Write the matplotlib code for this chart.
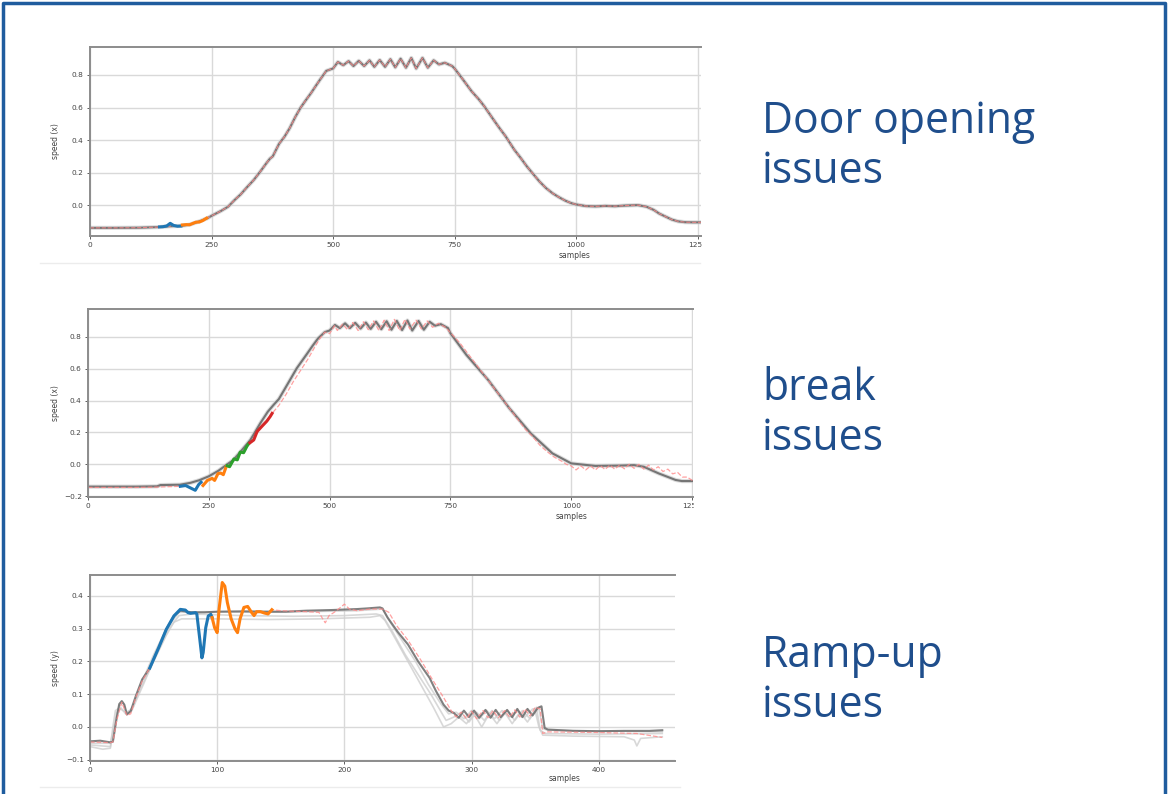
import matplotlib.pyplot as plt
from matplotlib.patches import Rectangle
from matplotlib.lines import Line2D

W, H = 1168, 794
textColour = '#1f4e8c'
borderColour = '#1f5c9e'
axesColour = '#8c8c8c'
gridColour = '#d9d9d9'
refColour = '#6a6a6a'
lightColour = '#cfcfcf'
queryColour = '#ff8a8a'

# ---- panel 1: door opening ----
door_x = [0, 50, 100, 143, 165, 187, 205, 225, 242, 250, 270, 284, 297, 310, 323, 337, 350, 363, 370, 376,
          389, 400, 411, 422, 433, 444, 455, 465, 473, 486, 500, 510, 521, 532, 542, 553, 564, 575, 585,
          596, 607, 618, 628, 639, 650, 661, 671, 684, 695, 707, 718, 730, 745, 750, 767, 785, 800, 811,
          829, 842, 855, 873, 886, 899, 912, 925, 938, 952, 965, 978, 990, 1000, 1020, 1040, 1060, 1080,
          1100, 1127, 1145, 1160, 1171, 1185, 1197, 1210, 1224, 1240, 1258]
door_y = [-0.14, -0.14, -0.139, -0.135, -0.13, -0.128, -0.12, -0.1, -0.08, -0.066, -0.035, -0.01, 0.03,
          0.066, 0.11, 0.155, 0.205, 0.258, 0.285, 0.3, 0.377, 0.42, 0.474, 0.54, 0.598, 0.645, 0.69,
          0.735, 0.77, 0.825, 0.84, 0.88, 0.86, 0.885, 0.855, 0.887, 0.855, 0.89, 0.85, 0.892, 0.85, 0.897,
          0.847, 0.9, 0.845, 0.905, 0.84, 0.905, 0.845, 0.89, 0.865, 0.875, 0.855, 0.84, 0.773, 0.7, 0.65,
          0.608, 0.53, 0.475, 0.423, 0.34, 0.29, 0.237, 0.19, 0.144, 0.105, 0.072, 0.048, 0.027, 0.012,
          0.004, -0.006, -0.008, -0.005, -0.007, -0.003, 0.0, -0.01, -0.03, -0.052, -0.072, -0.089, -0.1,
          -0.105, -0.106, -0.106]
door_blue_x = [143, 150, 158, 165, 172, 180, 187]
door_blue_y = [-0.134, -0.133, -0.128, -0.112, -0.125, -0.13, -0.129]
door_orange_x = [190, 198, 205, 212, 218, 225, 232, 240]
door_orange_y = [-0.122, -0.12, -0.121, -0.112, -0.105, -0.104, -0.095, -0.08]

# ---- panel 2: break ----
break_ref_x = [0, 100, 143, 150, 190, 212, 230, 250, 270, 288, 300, 315, 336, 357, 372, 384, 395, 406, 420,
               432, 443, 454, 465, 476, 490, 500, 511, 521, 532, 542, 553, 564, 575, 585, 596, 607, 618,
               628, 639, 650, 661, 671, 684, 695, 707, 718, 730, 745, 750, 783, 828, 872, 916, 961, 1000,
               1050, 1100, 1130, 1150, 1181, 1216, 1229, 1255]
break_ref_y = [-0.14, -0.14, -0.138, -0.13, -0.128, -0.116, -0.1, -0.075, -0.04, 0.0, 0.025, 0.077, 0.153,
               0.26, 0.33, 0.373, 0.41, 0.467, 0.54, 0.603, 0.65, 0.697, 0.745, 0.79, 0.83, 0.84, 0.875,
               0.855, 0.885, 0.855, 0.888, 0.852, 0.89, 0.85, 0.895, 0.848, 0.898, 0.845, 0.9, 0.843, 0.903,
               0.84, 0.9, 0.845, 0.895, 0.87, 0.88, 0.855, 0.823, 0.687, 0.53, 0.352, 0.195, 0.069, 0.006,
               -0.01, -0.008, -0.005, -0.015, -0.057, -0.098, -0.105, -0.105]
# query line before and after the highlighted segments
break_q_pre_x = [0, 100, 140, 191]
break_q_pre_y = [-0.145, -0.145, -0.143, -0.138]
break_q_post_x = [381, 395, 410, 425, 440, 455, 470, 480, 490, 500, 510, 516, 527, 537, 548,
                  559, 570, 580, 591, 602, 613, 623, 634, 645, 656, 666, 679, 690, 702, 713, 725, 740, 755, 770,
                  785, 800, 815, 830, 845, 860, 875, 890, 905, 920, 935, 950, 965, 980, 990, 1000, 1010, 1020,
                  1030, 1040, 1050, 1060, 1070, 1080, 1090, 1100, 1110, 1120, 1130, 1140, 1150, 1160, 1170,
                  1180, 1190, 1200, 1210, 1220, 1230, 1240, 1250, 1255]
break_q_post_y = [0.32, 0.37, 0.44, 0.52, 0.59, 0.66, 0.74, 0.79, 0.83, 0.82,
                  0.87, 0.84, 0.88, 0.845, 0.89, 0.84, 0.895, 0.845, 0.9, 0.84, 0.905, 0.84, 0.91, 0.84, 0.91,
                  0.85, 0.905, 0.85, 0.9, 0.86, 0.885, 0.86, 0.81, 0.76, 0.7, 0.64, 0.58, 0.52, 0.46, 0.4, 0.34,
                  0.28, 0.22, 0.175, 0.12, 0.08, 0.045, 0.02, 0.0, -0.01, -0.035, -0.01, -0.035, -0.01, -0.035,
                  -0.008, -0.032, -0.005, -0.03, -0.005, -0.028, 0.0, -0.025, 0.0, -0.03, -0.005, -0.035,
                  -0.015, -0.045, -0.03, -0.06, -0.05, -0.08, -0.08, -0.1, -0.105]
break_blue_x = [191, 202, 212, 222, 229, 234]
break_blue_y = [-0.138, -0.133, -0.148, -0.163, -0.127, -0.112]
break_orange_x = [238, 247, 257, 262, 269, 275, 280, 286]
break_orange_y = [-0.133, -0.101, -0.088, -0.101, -0.058, -0.055, -0.065, -0.015]
break_green_x = [288, 293, 302, 309, 315, 322, 329, 333]
break_green_y = [-0.009, -0.015, 0.034, 0.028, 0.077, 0.073, 0.114, 0.131]
break_red_x = [335, 343, 350, 360, 370, 377, 381]
break_red_y = [0.135, 0.153, 0.206, 0.239, 0.271, 0.3, 0.32]

# ---- panel 3: ramp-up ----
ramp_ref_x = [0, 8, 16, 18, 21, 23, 25, 27, 29, 32, 36, 41, 47, 54, 60, 66, 71, 80, 90, 100, 120, 140, 154,
              170, 190, 210, 218, 228, 230, 234, 242, 250, 258, 267, 272, 278, 282, 286, 290, 294, 298, 302,
              306, 311, 315, 319, 323, 328, 332, 336, 340, 344, 348, 352, 355, 357.5, 360, 380, 400, 420,
              440, 450]
ramp_ref_y = [-0.044, -0.042, -0.047, -0.045, 0.028, 0.07, 0.079, 0.068, 0.038, 0.048, 0.094, 0.145, 0.18,
              0.242, 0.298, 0.339, 0.355, 0.35, 0.35, 0.352, 0.353, 0.352, 0.352, 0.355, 0.357, 0.36, 0.362,
              0.365, 0.362, 0.334, 0.29, 0.252, 0.2, 0.15, 0.11, 0.068, 0.05, 0.043, 0.028, 0.05, 0.03,
              0.05, 0.028, 0.052, 0.028, 0.052, 0.03, 0.052, 0.03, 0.055, 0.03, 0.055, 0.035, 0.058, 0.063,
              -0.003, -0.008, -0.012, -0.013, -0.012, -0.012, -0.01]
ramp_q_pre_x = [0, 16, 18, 21, 25, 29, 32, 36, 41, 47]
ramp_q_pre_y = [-0.046, -0.048, -0.046, 0.02, 0.075, 0.035, 0.04, 0.09, 0.14, 0.18]
ramp_q_post_x = [143, 150, 170, 180, 183, 185, 188, 192, 197, 200, 204,
                 210, 220, 230, 235, 241, 250, 260, 270, 278, 284, 288, 292, 296, 300, 304, 309, 313, 317, 321,
                 326, 330, 334, 338, 342, 346, 350, 354, 356, 360, 400, 430, 450]
ramp_q_post_y = [0.358, 0.355, 0.352, 0.35,
                 0.33, 0.318, 0.34, 0.35, 0.365, 0.375, 0.36, 0.355, 0.36, 0.36, 0.35, 0.31, 0.265, 0.205, 0.14,
                 0.09, 0.05, 0.03, 0.045, 0.025, 0.048, 0.025, 0.05, 0.028, 0.05, 0.028, 0.05, 0.03, 0.052, 0.03,
                 0.055, 0.033, 0.06, 0.055, -0.02, -0.015, -0.017, -0.02, -0.032]
ramp_g1_x = [0, 10, 16, 18, 21, 24, 28, 32, 40, 50, 60, 66, 72, 100, 140, 180, 220, 228, 232, 240, 250,
             260, 270, 278, 284, 290, 296, 302, 308, 314, 320, 326, 332, 338, 344, 350, 353, 356, 380, 420,
             428, 430, 433, 450]
ramp_g1_y = [-0.06, -0.068, -0.065, -0.02, 0.045, 0.055, 0.045, 0.05, 0.12, 0.2, 0.28, 0.32, 0.33, 0.33,
             0.328, 0.33, 0.335, 0.34, 0.325, 0.27, 0.2, 0.13, 0.06, 0.0, 0.01, 0.03, 0.01, 0.04, 0.0, 0.04,
             0.01, 0.045, 0.01, 0.045, 0.015, 0.05, 0.0, -0.025, -0.028, -0.03, -0.04, -0.058, -0.035, -0.03]
ramp_g2_x = [0, 16, 18, 20, 24, 28, 34, 42, 52, 62, 70, 80, 120, 160, 200, 225, 230, 238, 248, 258, 268,
             274, 280, 286, 292, 298, 304, 310, 316, 322, 328, 334, 340, 346, 351, 354, 358, 400, 450]
ramp_g2_y = [-0.055, -0.06, 0.0, 0.05, 0.06, 0.04, 0.06, 0.13, 0.22, 0.3, 0.34, 0.345, 0.34, 0.338, 0.34,
             0.345, 0.34, 0.29, 0.22, 0.16, 0.1, 0.06, 0.02, 0.03, 0.045, 0.015, 0.045, 0.02, 0.05, 0.02,
             0.05, 0.02, 0.05, 0.025, 0.06, -0.01, -0.02, -0.022, -0.02]
ramp_g3_x = [0, 16, 19, 23, 26, 29, 33, 40, 50, 60, 70, 90, 130, 170, 210, 230, 236, 246, 256, 266, 276,
             282, 288, 294, 300, 306, 312, 318, 324, 330, 336, 342, 348, 353, 356, 360, 450]
ramp_g3_y = [-0.05, -0.05, 0.0, 0.065, 0.075, 0.04, 0.05, 0.13, 0.22, 0.3, 0.35, 0.352, 0.35, 0.352, 0.355,
             0.36, 0.32, 0.26, 0.2, 0.13, 0.07, 0.04, 0.045, 0.025, 0.05, 0.025, 0.05, 0.025, 0.05, 0.03,
             0.05, 0.03, 0.055, 0.055, -0.005, -0.01, -0.015]
ramp_blue_x = [47, 54, 60, 66, 71, 75, 77, 79, 83, 84, 86.5, 88, 89, 91, 93, 95, 96]
ramp_blue_y = [0.18, 0.242, 0.298, 0.339, 0.359, 0.357, 0.349, 0.347, 0.349, 0.345, 0.262, 0.211, 0.227,
               0.303, 0.339, 0.344, 0.334]
ramp_orange_x = [96, 98, 100, 101.5, 104, 106, 108, 111, 114, 116, 118, 121, 124, 127, 129, 131, 134, 137,
                 140, 143]
ramp_orange_y = [0.334, 0.303, 0.288, 0.36, 0.441, 0.43, 0.38, 0.33, 0.3, 0.288, 0.33, 0.365, 0.368, 0.35,
                 0.34, 0.352, 0.352, 0.348, 0.345, 0.358]

titles = [["Door opening", "issues"], ["break", "issues"], ["Ramp-up", "issues"]]


def pixelAxes(fig, left, top, right, bottom):
    return fig.add_axes([left / W, 1 - bottom / H, (right - left) / W, (bottom - top) / H])


def styleAxes(ax, box, xticks, yticks, xlim, ylim, ylabel, xlabelPos, labelTop):
    left, top, right, bottom = box
    ax.set_xlim(*xlim)
    ax.set_ylim(*ylim)
    ax.set_xticks(xticks)
    ax.set_yticks(yticks)
    ax.set_yticklabels([f"{v:.1f}".replace("-", "\u2212") for v in yticks])
    ax.grid(True, color=gridColour, lw=1.0)
    ax.set_axisbelow(True)
    ax.spines['right'].set_visible(False)
    for s in ['top', 'left', 'bottom']:
        ax.spines[s].set_color(axesColour)
        ax.spines[s].set_linewidth(1.4)
    ax.tick_params(labelsize=5.3, colors='#444444', length=2.5, width=0.6, pad=2)
    ax.set_xlabel("samples", fontsize=5.5, color='#444444')
    ax.set_ylabel(ylabel, fontsize=5.5, color='#444444')
    ax.xaxis.set_label_coords((xlabelPos - left) / (right - left), -(labelTop - bottom) / (bottom - top))
    ax.yaxis.set_label_coords((60 - left) / (right - left), 0.5)


def doorPanel(fig):
    box = (90, 47, 701, 236)
    ax = pixelAxes(fig, *box)
    ax.plot(door_x, door_y, color=lightColour, lw=3.0, alpha=0.7)
    ax.plot(door_x, door_y, color=refColour, lw=1.5, alpha=0.9)
    ax.plot(door_x, door_y, color=queryColour, lw=0.8, ls='--', alpha=0.8)
    ax.plot(door_blue_x, door_blue_y, color='#1f77b4', lw=2.2)
    ax.plot(door_orange_x, door_orange_y, color='#ff7f0e', lw=2.2)
    styleAxes(ax, box, [0, 250, 500, 750, 1000, 1250], [0.0, 0.2, 0.4, 0.6, 0.8],
              (0, 1257), (-0.19, 0.972), "speed (x)", 575, 251)
    return box


def breakPanel(fig):
    box = (88, 309, 693, 497)
    ax = pixelAxes(fig, *box)
    ax.plot(break_ref_x, break_ref_y, color=lightColour, lw=3.0, alpha=0.7)
    ax.plot(break_ref_x, break_ref_y, color=refColour, lw=1.5, alpha=0.9)
    qx = break_q_pre_x + break_blue_x + break_orange_x + break_green_x + break_red_x + break_q_post_x
    qy = break_q_pre_y + break_blue_y + break_orange_y + break_green_y + break_red_y + break_q_post_y
    ax.plot(qx, qy, color=queryColour, lw=0.9, ls='--', alpha=0.8)
    ax.plot(break_blue_x, break_blue_y, color='#1f77b4', lw=2.2)
    ax.plot(break_orange_x, break_orange_y, color='#ff7f0e', lw=2.2)
    ax.plot(break_green_x, break_green_y, color='#2ca02c', lw=2.2)
    ax.plot(break_red_x, break_red_y, color='#d62728', lw=2.2)
    styleAxes(ax, box, [0, 250, 500, 750, 1000, 1250], [-0.2, 0.0, 0.2, 0.4, 0.6, 0.8],
              (0, 1252), (-0.205, 0.975), "speed (x)", 572, 512)
    return box


def rampPanel(fig):
    box = (90, 575, 675, 761)
    ax = pixelAxes(fig, *box)
    for gx, gy in [(ramp_g1_x, ramp_g1_y), (ramp_g2_x, ramp_g2_y), (ramp_g3_x, ramp_g3_y)]:
        ax.plot(gx, gy, color=lightColour, lw=1.2, alpha=0.8)
    ax.plot(ramp_ref_x, ramp_ref_y, color=refColour, lw=1.5, alpha=0.85)
    qx = ramp_q_pre_x + ramp_blue_x + ramp_orange_x + ramp_q_post_x
    qy = ramp_q_pre_y + ramp_blue_y + ramp_orange_y + ramp_q_post_y
    ax.plot(qx, qy, color=queryColour, lw=0.9, ls='--', alpha=0.8)
    ax.plot(ramp_blue_x, ramp_blue_y, color='#1f77b4', lw=2.2)
    ax.plot(ramp_orange_x, ramp_orange_y, color='#ff7f0e', lw=2.2)
    styleAxes(ax, box, [0, 100, 200, 300, 400], [-0.1, 0.0, 0.1, 0.2, 0.3, 0.4],
              (0, 460), (-0.104, 0.464), "speed (y)", 565, 774)
    return box


def slide():
    fig = plt.figure(figsize=(W / 100, H / 100), dpi=100)
    boxes = [doorPanel(fig), breakPanel(fig)]
    rampPanel(fig)

    # hide the part of the last tick label that was cropped off in the screenshots
    for left, top, right, bottom in boxes:
        fig.add_artist(Rectangle(((right + 1) / W, 1 - (bottom + 18) / H), 40 / W, 16 / H,
                                 transform=fig.transFigure, color='white', zorder=10))
    # faint screenshot edges
    for y, x0, x1 in [(263, 40, 700), (787, 40, 680)]:
        fig.add_artist(Line2D([x0 / W, x1 / W], [1 - y / H, 1 - y / H], transform=fig.transFigure,
                              color='#ececec', lw=1))
    # slide border
    fig.add_artist(Line2D([3 / W, 3 / W, 1165 / W, 1165 / W], [0, 1 - 3 / H, 1 - 3 / H, 0],
                          transform=fig.transFigure, color=borderColour, lw=2.5))

    baselines = [(133, 183), (400, 450), (667, 717)]
    for lines, ys in zip(titles, baselines):
        for text, y in zip(lines, ys):
            fig.text(762 / W, 1 - y / H, text, fontsize=30.8, color=textColour,
                     family=['Open Sans', 'DejaVu Sans'], ha='left', va='baseline')

    plt.savefig("out.png", dpi=100)


if __name__ == "__main__":
    slide()
